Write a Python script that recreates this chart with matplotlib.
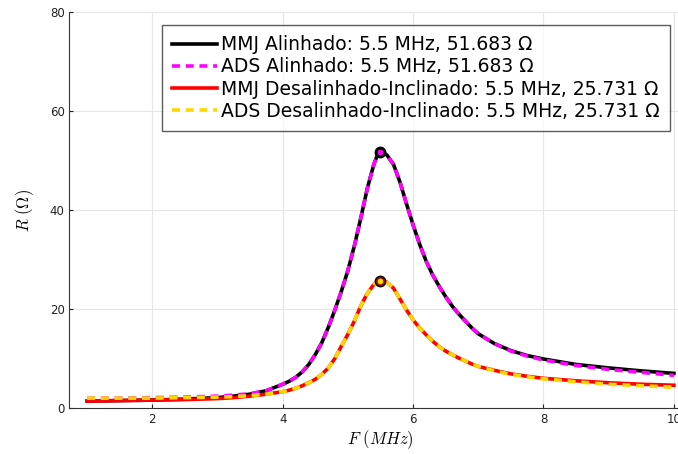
import matplotlib.pyplot as plt

# Frequências (MHz)
freq = [1.0, 1.5, 2.0, 2.5, 3.0, 3.25, 3.5, 3.75,
        4.0, 4.1, 4.2, 4.3, 4.4, 4.5, 4.6, 4.7, 4.8, 4.9, 5.0, 5.1, 5.2, 5.3, 5.4,
        5.45, 5.5, 5.55,
        5.6, 5.7, 5.8, 5.9, 6.0, 6.1, 6.2, 6.3, 6.4, 6.5, 6.6, 6.7, 6.8, 6.9, 7.0,
        7.25, 7.5, 7.75, 8.0, 8.5, 9.0, 9.5, 10.0]

# Resistência (Ohm)
mmj_alinhado = [1.4, 1.5, 1.6, 1.8, 2.1, 2.4, 2.8, 3.5,
                4.8, 5.4, 6.2, 7.3, 8.8, 10.8, 13.2, 16.3, 19.8, 23.6, 27.8, 32.8, 38.5, 44.5, 49.3,
                51.0, 51.683, 51.6,
                51.1, 49.2, 45.6, 41.2, 37.0, 33.1, 29.7, 26.9, 24.6, 22.5, 20.6, 19.0, 17.6, 16.2, 15.0,
                13.0, 11.6, 10.6, 9.9, 8.8, 8.1, 7.5, 7.0]
ads_alinhado = [2.0, 2.0, 2.1, 2.2, 2.4, 2.6, 2.9, 3.5,
                4.8, 5.4, 6.2, 7.3, 8.8, 10.8, 13.2, 16.3, 19.8, 23.6, 27.8, 32.8, 38.5, 44.5, 49.3,
                51.0, 51.683, 51.6,
                51.1, 49.2, 45.6, 41.2, 37.0, 33.1, 29.7, 26.9, 24.6, 22.5, 20.6, 19.0, 17.6, 16.2, 15.0,
                13.0, 11.5, 10.5, 9.7, 8.6, 7.8, 7.2, 6.6]
mmj_desalinhado = [1.4, 1.5, 1.6, 1.7, 1.9, 2.1, 2.4, 2.8,
                   3.3, 3.6, 4.0, 4.5, 5.1, 5.8, 6.8, 8.1, 10.0, 12.5, 14.9, 17.6, 20.7, 23.2, 25.0,
                   25.5, 25.731, 25.7,
                   25.4, 24.2, 22.0, 19.8, 17.8, 16.2, 14.8, 13.5, 12.4, 11.5, 10.8, 10.1, 9.5, 8.9, 8.4,
                   7.6, 6.9, 6.4, 6.0, 5.5, 5.1, 4.8, 4.6]
ads_desalinhado = [2.0, 2.0, 2.0, 2.1, 2.2, 2.3, 2.5, 2.8,
                   3.3, 3.6, 4.0, 4.5, 5.1, 5.8, 6.8, 8.1, 10.0, 12.5, 14.9, 17.6, 20.7, 23.2, 25.0,
                   25.5, 25.731, 25.7,
                   25.4, 24.2, 22.0, 19.8, 17.8, 16.2, 14.8, 13.5, 12.4, 11.5, 10.8, 10.1, 9.5, 8.9, 8.4,
                   7.5, 6.8, 6.3, 5.9, 5.3, 4.8, 4.5, 4.2]

# Picos
pico_f = 5.5
pico_alinhado = 51.683
pico_desalinhado = 25.731


def main():
    plt.rcParams["mathtext.fontset"] = "cm"
    fig = plt.figure(figsize=(6.78, 4.54), dpi=100)
    ax = fig.add_axes([0.1025, 0.1013, 0.9174, 0.872])

    lw = 2.6
    ax.plot(freq, mmj_alinhado, color="black", lw=lw,
            label=f"MMJ Alinhado: {pico_f} MHz, {pico_alinhado} Ω")
    ax.plot(freq, ads_alinhado, color="magenta", lw=lw, dashes=(2.2, 1.6),
            label=f"ADS Alinhado: {pico_f} MHz, {pico_alinhado} Ω")
    ax.plot(freq, mmj_desalinhado, color="red", lw=lw,
            label=f"MMJ Desalinhado-Inclinado: {pico_f} MHz, {pico_desalinhado} Ω")
    ax.plot(freq, ads_desalinhado, color="#ffd700", lw=lw, dashes=(2.2, 1.6),
            label=f"ADS Desalinhado-Inclinado: {pico_f} MHz, {pico_desalinhado} Ω")

    # Marcadores nos picos
    ax.plot([pico_f], [pico_alinhado], "o", ms=7.5, mfc="black", mec="black", zorder=5)
    ax.plot([pico_f], [pico_alinhado], "o", ms=5, mfc="magenta", mec="black", mew=0.8, zorder=6)
    ax.plot([pico_f], [pico_desalinhado], "o", ms=7.5, mfc="#b01010", mec="black", zorder=5)
    ax.plot([pico_f], [pico_desalinhado], "o", ms=5, mfc="#ffd700", mec="#8b0000", mew=0.8, zorder=6)

    ax.set_xlim(0.73, 10.27)
    ax.set_ylim(0, 80)
    ax.set_xticks([2, 4, 6, 8, 10])
    ax.set_yticks([0, 20, 40, 60, 80])
    ax.tick_params(direction="in", length=3, labelsize=8.5, colors="#222222")
    ax.grid(True, color="#e6e6e6", lw=0.8)
    ax.set_axisbelow(True)
    for s in ["top", "right"]:
        ax.spines[s].set_visible(False)
    for s in ["left", "bottom"]:
        ax.spines[s].set_color("#333333")

    ax.set_xlabel(r"$F\ (MHz)$", fontsize=12, labelpad=2)
    ax.set_ylabel(r"$R\ (\Omega)$", fontsize=12, labelpad=10)

    leg = ax.legend(loc="upper right", bbox_to_anchor=(0.988, 0.945),
                    bbox_transform=fig.transFigure, borderaxespad=0,
                    fontsize=13.5, frameon=True, fancybox=False,
                    handlelength=2.4, handletextpad=0.2, labelspacing=0.17,
                    borderpad=0.55)
    leg.get_frame().set_edgecolor("#333333")
    leg.get_frame().set_linewidth(1.0)

    fig.savefig("out.png", dpi=100)


if __name__ == "__main__":
    main()
